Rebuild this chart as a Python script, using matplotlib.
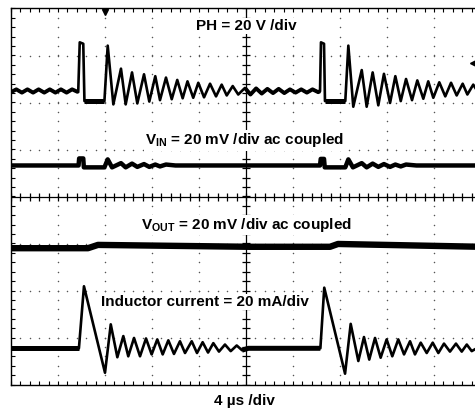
import numpy as np
import matplotlib
matplotlib.use("Agg")
import matplotlib.pyplot as plt

plt.rcParams["font.family"] = "Liberation Sans"
plt.rcParams["mathtext.fontset"] = "custom"
plt.rcParams["mathtext.bf"] = "Liberation Sans:bold"
plt.rcParams["mathtext.rm"] = "Liberation Sans:bold"

# time in us (4 us/div), levels in screen divisions (0 = centre line)
ph_t = [0.0, 0.45, 0.93, 1.40, 1.88, 2.35, 2.83, 3.30, 3.78, 4.25, 4.73, 5.20, 5.72,
        5.85, 6.15, 6.25, 7.95, 8.23, 8.71, 9.36, 9.76, 10.30, 10.75,
        11.32, 11.77, 12.28, 12.68, 13.19, 13.68, 14.15, 14.61, 15.02, 15.51,
        15.94, 16.43, 16.94, 17.45, 17.93, 18.36, 18.87, 19.34, 19.91,
        20.38, 20.86, 21.34, 21.82, 22.30, 22.78, 23.26, 23.74, 24.22, 24.70,
        25.18, 25.66, 26.14, 26.30,
        26.38, 26.64, 26.72, 28.45, 28.71, 29.13, 29.85, 30.27, 30.78,
        31.26, 31.74, 32.26, 32.71, 33.17, 33.62, 34.13, 34.58, 35.09, 35.51,
        35.94, 36.45, 36.96, 37.45, 37.93, 38.44, 38.84, 39.34, 39.8]
ph_v = [2.22, 2.28, 2.21, 2.28, 2.21, 2.28, 2.21, 2.28, 2.21, 2.28, 2.21, 2.28, 2.22,
        3.28, 3.25, 2.03, 2.03, 3.21, 1.96, 2.72, 1.96, 2.64, 1.98,
        2.60, 2.02, 2.56, 2.05, 2.53, 2.07, 2.48, 2.09, 2.45, 2.10,
        2.42, 2.11, 2.40, 2.13, 2.38, 2.15, 2.35, 2.17, 2.31,
        2.17, 2.30, 2.19, 2.29, 2.20, 2.29, 2.20, 2.28, 2.21, 2.28,
        2.21, 2.28, 2.22, 2.24,
        3.28, 3.25, 2.03, 2.03, 3.21, 1.91, 2.69, 1.91, 2.64,
        1.94, 2.61, 1.99, 2.56, 2.03, 2.50, 2.05, 2.47, 2.08, 2.45,
        2.10, 2.43, 2.13, 2.42, 2.15, 2.40, 2.17, 2.38, 2.20]

vin_t = [0.0, 5.75, 5.8, 6.15, 6.2, 7.95, 8.23, 8.6, 9.36, 9.76, 10.30, 10.75,
         11.32, 11.77, 12.28, 12.68, 13.19, 14.0, 26.3, 26.36, 26.64, 26.7,
         28.45, 28.71, 29.1, 29.85, 30.27, 30.78, 31.26, 31.74, 32.26, 32.71,
         33.17, 33.62, 34.5, 40.0]
vin_v = [0.66, 0.66, 0.81, 0.81, 0.62, 0.62, 0.79, 0.62, 0.71, 0.62, 0.70, 0.63,
         0.69, 0.63, 0.68, 0.64, 0.68, 0.66, 0.66, 0.80, 0.80, 0.62,
         0.62, 0.79, 0.62, 0.71, 0.62, 0.70, 0.63, 0.69, 0.63, 0.68,
         0.64, 0.68, 0.66, 0.66]

vout_t = [0.0, 6.55, 7.4, 20.3, 27.15, 27.83, 40.0]
vout_v = [-1.10, -1.10, -1.03, -1.07, -1.07, -1.01, -1.07]

ind_t = [0.0, 5.78, 6.21, 8.0, 8.49, 9.05, 9.56, 9.98, 10.47, 10.98, 11.49, 11.97,
         12.45, 12.91, 13.39, 13.87, 14.38, 14.81, 15.38, 15.83, 16.31, 16.77,
         17.22, 17.70, 18.21, 18.70, 19.21, 19.66, 20.2, 26.33, 26.66, 28.43,
         28.91, 29.56, 30.04, 30.49, 30.98, 31.46, 31.97, 32.45, 32.96, 33.45,
         33.96, 34.38, 34.87, 35.38, 35.89, 36.37, 36.85, 37.36, 37.87, 38.36,
         38.79, 39.21, 39.7]
ind_v = [-3.23, -3.23, -1.91, -3.75, -2.72, -3.42, -2.97, -3.40, -3.01, -3.40, -3.02, -3.36,
         -3.04, -3.36, -3.06, -3.35, -3.08, -3.33, -3.08, -3.33, -3.10, -3.32,
         -3.12, -3.30, -3.15, -3.29, -3.17, -3.27, -3.23, -3.23, -1.94, -3.77,
         -2.71, -3.50, -2.99, -3.47, -3.01, -3.43, -3.04, -3.40, -3.04, -3.36,
         -3.08, -3.36, -3.11, -3.33, -3.11, -3.33, -3.13, -3.30, -3.13, -3.30,
         -3.15, -3.29, -3.22]


def draw_trace(ax, t, v, lw, quiet=()):
    t = np.asarray(t)
    v = np.asarray(v)
    ax.plot(t, v, color="black", lw=lw, solid_joinstyle="round", zorder=4)
    # flat noisy stretches look fatter on the scope
    for a, b, qlw in quiet:
        m = (t >= a) & (t <= b)
        ax.plot(t[m], v[m], color="black", lw=qlw, solid_capstyle="butt",
                solid_joinstyle="round", zorder=4)


fig = plt.figure(figsize=(4.75, 4.11), dpi=100)
ax = fig.add_axes([11 / 475, 26.5 / 411, 470 / 475, 376 / 411])
ax.set_xlim(0, 40)
ax.set_ylim(-4, 4)

for s in ["left", "top", "bottom"]:
    ax.spines[s].set_linewidth(1.0)
ax.spines["right"].set_visible(False)
ax.set_xticks(np.arange(0, 40.01, 0.8))
ax.set_yticks(np.arange(-4, 4.01, 0.2))
ax.tick_params(direction="in", length=3, width=0.8, top=True, right=False,
               labelbottom=False, labelleft=False)

# dotted graticule
minor_x = np.arange(0, 40.01, 0.8)
minor_y = np.arange(-4, 4.01, 0.2)
for gy in [-3, -2, -1, 1, 2, 3]:
    ax.scatter(minor_x, np.full_like(minor_x, gy), s=1.2, color="#555555", lw=0, zorder=1)
for gx in [4, 8, 12, 16, 24, 28, 32, 36]:
    ax.scatter(np.full_like(minor_y, gx), minor_y, s=1.2, color="#555555", lw=0, zorder=1)

# centre cross with ticks
ax.axvline(20, color="black", lw=0.9, zorder=1)
ax.axhline(0, color="black", lw=0.9, zorder=1)
ax.plot(np.full_like(minor_y, 20), minor_y, ls="none", marker="_", ms=6, mew=0.9,
        color="black", zorder=1)
ax.plot(minor_x, np.zeros_like(minor_x), ls="none", marker="|", ms=6, mew=0.9,
        color="black", zorder=1)

draw_trace(ax, ph_t, ph_v, 1.9,
           quiet=[(0, 5.73, 2.8), (6.2, 8.0, 3.6), (19.9, 26.31, 2.8), (26.7, 28.5, 3.6)])
draw_trace(ax, vin_t, vin_v, 3.2)
draw_trace(ax, vout_t, vout_v, 4.6)
draw_trace(ax, ind_t, ind_v, 1.9, quiet=[(0, 5.79, 3.6), (19.6, 26.34, 3.6)])

# trigger markers
ax.plot([8.0], [3.93], marker="v", ms=5, color="black", clip_on=False, zorder=5)
ax.plot([39.3], [2.84], marker="<", ms=4, color="black", clip_on=False, zorder=5)

box = dict(facecolor="white", edgecolor="none", pad=1)
tk = dict(ha="center", va="baseline", fontsize=11, fontweight="bold", zorder=3, bbox=box)
ax.text(20.0, 3.54, "PH = 20 V /div", **tk)
ax.text(19.87, 1.11, r"$\mathbf{V_{IN}}$ = 20 mV /div ac coupled", **tk)
ax.text(20.04, -0.69, r"$\mathbf{V_{OUT}}$ = 20 mV /div ac coupled", **tk)
ax.text(16.51, -2.33, "Inductor current = 20 mA/div", **tk)

fig.text(244 / 475, 6 / 411, "4 µs /div", ha="center", va="baseline",
         fontsize=11, fontweight="bold")

fig.savefig("out.png", dpi=100)
